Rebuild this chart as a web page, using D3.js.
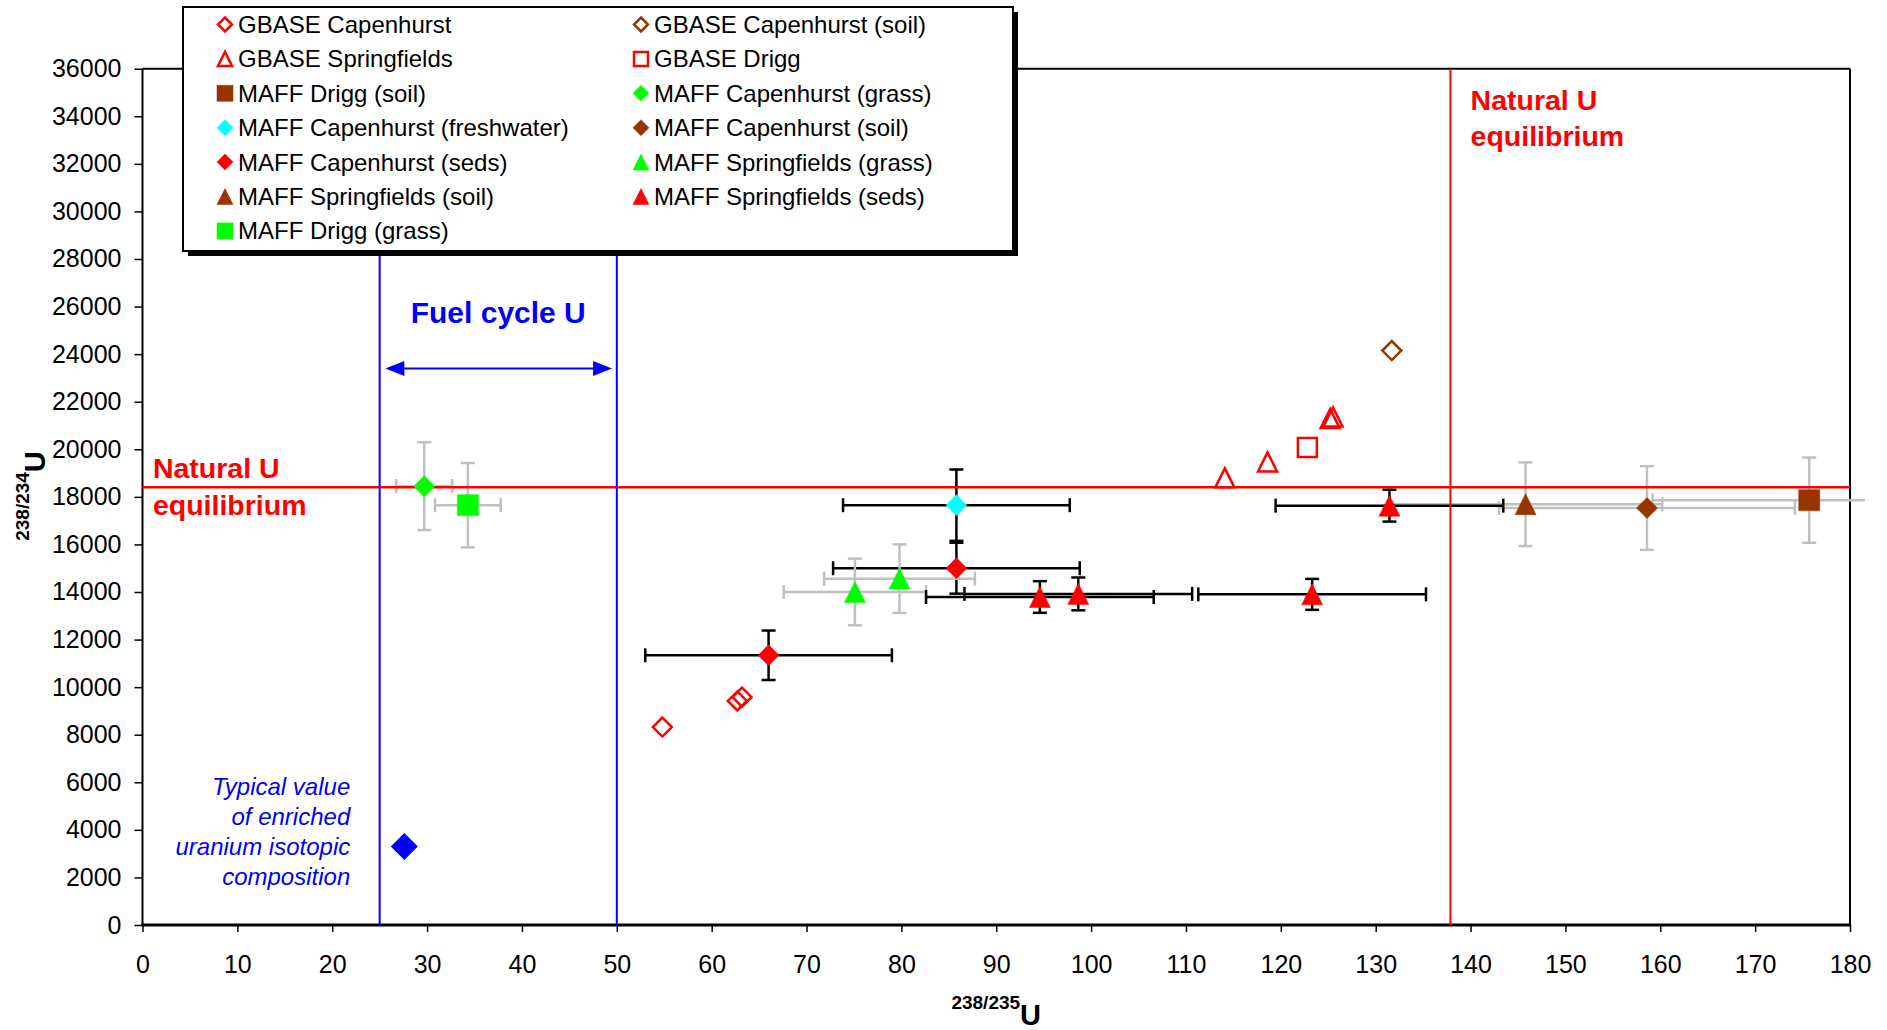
<!DOCTYPE html>
<html>
<head>
<meta charset="utf-8">
<script src="https://cdn.jsdelivr.net/npm/d3@7"></script>
<style>
  html, body { margin: 0; padding: 0; background: #fff; }
  svg { display: block; font-family: "Liberation Sans", Arial, sans-serif; }
</style>
</head>
<body>
<svg id="chart" width="1887" height="1030"></svg>
<script>
// ---- Axis ticks ----
const xTickValues = [0, 10, 20, 30, 40, 50, 60, 70, 80, 90, 100, 110, 120, 130, 140, 150, 160, 170, 180];
const yTickValues = [0, 2000, 4000, 6000, 8000, 10000, 12000, 14000, 16000, 18000, 20000,
                     22000, 24000, 26000, 28000, 30000, 32000, 34000, 36000];

// ---- Reference values ----
const naturalU235 = 137.88;          // natural 238/235 ratio
const naturalU234 = 18400;           // natural 238/234 ratio (secular equilibrium)
const fuelCycleBounds = [25, 50];    // fuel-cycle 238/235 band
const fuelArrowSpan = [25.6, 49.5];
const fuelArrowLevel = 23400;
const enrichedUranium = [27.6, 3300];

// ---- GBASE survey: [238/235, 238/234] ----
const gbaseCapenhurst     = [[54.8, 8320], [62.7, 9420], [63.2, 9580]];
const gbaseCapenhurstSoil = [[131.7, 24150]];
const gbaseSpringfields   = [[114.1, 18800], [118.6, 19470], [125.2, 21290], [125.5, 21360]];
const gbaseDrigg          = [[122.8, 20070]];

// ---- MAFF samples: [238/235, 238/234, ± 238/235, ± 238/234] ----
const maffDriggSoil            = [[175.7, 17860, 16.5, 1790]];
const maffCapenhurstGrass      = [[29.7, 18450, 2.95, 1845]];
const maffCapenhurstFreshwater = [[85.8, 17650, 11.95, 1500]];
const maffCapenhurstSoil       = [[158.6, 17530, 15.6, 1760]];
const maffCapenhurstSeds       = [[66.0, 11340, 13.0, 1040], [85.8, 15000, 13.0, 1070]];
const maffSpringfieldsGrass    = [[75.1, 14000, 7.5, 1400], [79.8, 14560, 7.95, 1440]];
const maffSpringfieldsSoil     = [[145.8, 17690, 14.4, 1760]];
const maffSpringfieldsSeds     = [[94.6, 13790, 12.0, 665], [98.65, 13920, 12.0, 690],
                                  [123.3, 13900, 12.0, 650], [131.45, 17630, 12.0, 670]];
const maffDriggGrass           = [[34.3, 17650, 3.46, 1775]];

// ---- Series, in legend order ----
const RED = "#ff0000", BROWN = "#993300", GREEN = "#00ff00", CYAN = "#00ffff", BLUE = "#0000ff";
const GREY_BAR = "#c0c0c0", BLACK_BAR = "#000000";

const series = [
  { name: "GBASE Capenhurst",            data: gbaseCapenhurst,          shape: "diamond",  color: RED,   open: true },
  { name: "GBASE Capenhurst (soil)",     data: gbaseCapenhurstSoil,      shape: "diamond",  color: BROWN, open: true },
  { name: "GBASE Springfields",          data: gbaseSpringfields,        shape: "triangle", color: RED,   open: true },
  { name: "GBASE Drigg",                 data: gbaseDrigg,               shape: "square",   color: RED,   open: true },
  { name: "MAFF Drigg (soil)",           data: maffDriggSoil,            shape: "square",   color: BROWN, bar: GREY_BAR },
  { name: "MAFF Capenhurst (grass)",     data: maffCapenhurstGrass,      shape: "diamond",  color: GREEN, bar: GREY_BAR },
  { name: "MAFF Capenhurst (freshwater)",data: maffCapenhurstFreshwater, shape: "diamond",  color: CYAN,  bar: BLACK_BAR },
  { name: "MAFF Capenhurst (soil)",      data: maffCapenhurstSoil,       shape: "diamond",  color: BROWN, bar: GREY_BAR },
  { name: "MAFF Capenhurst (seds)",      data: maffCapenhurstSeds,       shape: "diamond",  color: RED,   bar: BLACK_BAR },
  { name: "MAFF Springfields (grass)",   data: maffSpringfieldsGrass,    shape: "triangle", color: GREEN, bar: GREY_BAR },
  { name: "MAFF Springfields (soil)",    data: maffSpringfieldsSoil,     shape: "triangle", color: BROWN, bar: GREY_BAR },
  { name: "MAFF Springfields (seds)",    data: maffSpringfieldsSeds,     shape: "triangle", color: RED,   bar: BLACK_BAR },
  { name: "MAFF Drigg (grass)",          data: maffDriggGrass,           shape: "square",   color: GREEN, bar: GREY_BAR }
];

// ---- Layout ----
const FONT = "'Liberation Sans', Arial, sans-serif";
const plot = { left: 142.5, right: 1850, top: 68.7, bottom: 925 };

const x = d3.scaleLinear().domain([0, 180]).range([plot.left, plot.right]);
const y = d3.scaleLinear().domain([0, 36000]).range([plot.bottom, plot.top]);

const svg = d3.select("#chart");

function shapePath(shape, r) {
  if (shape === "diamond")  return `M0,${-r}L${r},0L0,${r}L${-r},0Z`;
  if (shape === "triangle") return `M0,${-r}L${r},${r}L${-r},${r}Z`;
  return `M${-r},${-r}H${r}V${r}H${-r}Z`;
}

// clip region for error bars (they may run a little past the right frame)
svg.append("defs").append("clipPath").attr("id", "barClip")
  .append("rect")
  .attr("x", plot.left).attr("y", 0)
  .attr("width", plot.right - plot.left + 15).attr("height", plot.bottom);

// ---- Axes ----
const xAxisG = svg.append("g").attr("transform", `translate(0,${plot.bottom})`);
xAxisG.call(d3.axisBottom(x).tickValues(d3.range(0, 180.001, 2.5)).tickSize(5).tickSizeOuter(0).tickFormat(""));
xAxisG.call(d3.axisBottom(x).tickValues(xTickValues).tickSize(7).tickSizeOuter(0).tickPadding(23));
xAxisG.selectAll(".domain").remove();
xAxisG.selectAll("line").attr("stroke", "#000").attr("stroke-width", 1.5);
xAxisG.selectAll("text").attr("font-size", 25).attr("font-family", FONT).attr("fill", "#000");

const yAxisG = svg.append("g").attr("transform", `translate(${plot.left},0)`);
yAxisG.call(d3.axisLeft(y).tickValues(d3.range(0, 36001, 500)).tickSize(6).tickSizeOuter(0).tickFormat(""));
yAxisG.call(d3.axisLeft(y).tickValues(yTickValues).tickSize(8).tickSizeOuter(0).tickPadding(13).tickFormat(d3.format("d")));
yAxisG.selectAll(".domain").remove();
yAxisG.selectAll("line").attr("stroke", "#000").attr("stroke-width", 1.5);
yAxisG.selectAll("text").attr("font-size", 25).attr("font-family", FONT).attr("fill", "#000");

// plot frame
svg.append("line").attr("x1", plot.left).attr("x2", plot.right).attr("y1", plot.top).attr("y2", plot.top)
  .attr("stroke", "#000").attr("stroke-width", 2);
svg.append("line").attr("x1", plot.right).attr("x2", plot.right).attr("y1", plot.top).attr("y2", plot.bottom)
  .attr("stroke", "#000").attr("stroke-width", 2);
svg.append("line").attr("x1", plot.left).attr("x2", plot.left).attr("y1", plot.top).attr("y2", plot.bottom + 1)
  .attr("stroke", "#000").attr("stroke-width", 2);
svg.append("line").attr("x1", plot.left - 1).attr("x2", plot.right).attr("y1", plot.bottom).attr("y2", plot.bottom)
  .attr("stroke", "#000").attr("stroke-width", 3);

// axis titles
const xTitle = svg.append("text").attr("x", (plot.left + plot.right) / 2).attr("y", 1025)
  .attr("text-anchor", "middle").attr("font-family", FONT).attr("font-weight", "bold").attr("fill", "#000");
xTitle.append("tspan").attr("font-size", 19).attr("dy", -15.6).text("238/235");
xTitle.append("tspan").attr("font-size", 29).attr("dy", 15.6).text("U");

const yTitle = svg.append("text").attr("transform", "translate(45,496) rotate(-90)")
  .attr("text-anchor", "middle").attr("font-family", FONT).attr("font-weight", "bold").attr("fill", "#000");
yTitle.append("tspan").attr("font-size", 19).attr("dy", -15.6).text("238/234");
yTitle.append("tspan").attr("font-size", 29).attr("dy", 15.6).text("U");

// ---- Error bars ----
const barLayer = svg.append("g").attr("clip-path", "url(#barClip)");
const CAP = 7;
series.filter(s => s.bar).forEach(s => {
  s.data.forEach(([vx, vy, ex, ey]) => {
    const g = barLayer.append("g").attr("stroke", s.bar).attr("stroke-width", 2.5).attr("fill", "none");
    const cx = x(vx), cy = y(vy);
    const x0 = x(vx - ex), x1 = x(vx + ex), y0 = y(vy - ey), y1 = y(vy + ey);
    g.append("line").attr("x1", x0).attr("x2", x1).attr("y1", cy).attr("y2", cy);
    g.append("line").attr("x1", x0).attr("x2", x0).attr("y1", cy - CAP).attr("y2", cy + CAP);
    g.append("line").attr("x1", x1).attr("x2", x1).attr("y1", cy - CAP).attr("y2", cy + CAP);
    g.append("line").attr("x1", cx).attr("x2", cx).attr("y1", y0).attr("y2", y1);
    g.append("line").attr("x1", cx - CAP).attr("x2", cx + CAP).attr("y1", y0).attr("y2", y0);
    g.append("line").attr("x1", cx - CAP).attr("x2", cx + CAP).attr("y1", y1).attr("y2", y1);
  });
});

// ---- Reference lines ----
svg.append("line").attr("x1", x(0)).attr("x2", x(180)).attr("y1", y(naturalU234)).attr("y2", y(naturalU234))
  .attr("stroke", RED).attr("stroke-width", 2.5);
svg.append("line").attr("x1", x(naturalU235)).attr("x2", x(naturalU235)).attr("y1", y(36000)).attr("y2", y(0))
  .attr("stroke", RED).attr("stroke-width", 2);
fuelCycleBounds.forEach(v => {
  svg.append("line").attr("x1", x(v)).attr("x2", x(v)).attr("y1", y(36000)).attr("y2", y(0))
    .attr("stroke", BLUE).attr("stroke-width", 2);
});

// fuel-cycle double arrow
const ay = y(fuelArrowLevel), ax0 = x(fuelArrowSpan[0]), ax1 = x(fuelArrowSpan[1]);
svg.append("line").attr("x1", ax0 + 10).attr("x2", ax1 - 10).attr("y1", ay).attr("y2", ay)
  .attr("stroke", BLUE).attr("stroke-width", 2);
svg.append("path").attr("d", `M${ax0},${ay}L${ax0 + 19},${ay - 7.5}L${ax0 + 19},${ay + 7.5}Z`).attr("fill", BLUE);
svg.append("path").attr("d", `M${ax1},${ay}L${ax1 - 19},${ay - 7.5}L${ax1 - 19},${ay + 7.5}Z`).attr("fill", BLUE);

// ---- Markers ----
series.forEach(s => {
  const g = svg.append("g");
  s.data.forEach(d => {
    g.append("path")
      .attr("transform", `translate(${x(d[0])},${y(d[1])})`)
      .attr("d", shapePath(s.shape, s.open ? 9.5 : 10.5))
      .attr("fill", s.open ? "none" : s.color)
      .attr("stroke", s.color)
      .attr("stroke-width", s.open ? 2.5 : 0.5)
      .attr("stroke-linejoin", "miter");
  });
});

// enriched uranium reference point
svg.append("path")
  .attr("transform", `translate(${x(enrichedUranium[0])},${y(enrichedUranium[1])})`)
  .attr("d", shapePath("diamond", 13.5)).attr("fill", BLUE);

// ---- Annotations ----
svg.append("text").attr("x", x(37.5)).attr("y", y(25766)).attr("dy", "0.35em")
  .attr("text-anchor", "middle").attr("font-family", FONT).attr("font-weight", "bold")
  .attr("font-size", 30).attr("fill", BLUE).text("Fuel cycle U");

function redLabel(vx, vyTop, vyBottom) {
  const t = svg.append("text").attr("font-family", FONT).attr("font-weight", "bold")
    .attr("font-size", 28.5).attr("fill", RED);
  t.append("tspan").attr("x", x(vx)).attr("y", y(vyTop)).attr("dy", "0.35em").text("Natural U");
  t.append("tspan").attr("x", x(vx)).attr("y", y(vyBottom)).attr("dy", "0.35em").text("equilibrium");
}
redLabel(1.1, 19203, 17647);
redLabel(140.0, 34681, 33168);

const noteLines = ["Typical value", "of enriched", "uranium isotopic", "composition"];
const noteLevels = [5826, 4564, 3302, 2040];
const note = svg.append("text").attr("font-family", FONT).attr("font-style", "italic")
  .attr("font-size", 24).attr("fill", BLUE).attr("text-anchor", "end");
noteLines.forEach((line, i) => {
  note.append("tspan").attr("x", x(21.9)).attr("y", y(noteLevels[i])).attr("dy", "0.35em").text(line);
});

// ---- Legend ----
const legend = { x: 183, y: 7, w: 830, h: 244 };
svg.append("rect").attr("x", legend.x + 5).attr("y", legend.y + 5).attr("width", legend.w).attr("height", legend.h)
  .attr("fill", "#000");
svg.append("rect").attr("x", legend.x).attr("y", legend.y).attr("width", legend.w).attr("height", legend.h)
  .attr("fill", "#fff").attr("stroke", "#000").attr("stroke-width", 2);

const colX = [225, 641];
series.forEach((s, i) => {
  const cx = colX[i % 2];
  const cy = 24.5 + Math.floor(i / 2) * 34.4;
  svg.append("path")
    .attr("transform", `translate(${cx},${cy})`)
    .attr("d", shapePath(s.shape, s.open ? 7 : 8))
    .attr("fill", s.open ? "none" : s.color)
    .attr("stroke", s.color)
    .attr("stroke-width", s.open ? 2.5 : 0.5);
  svg.append("text").attr("x", cx + 13).attr("y", cy + 8.5)
    .attr("font-family", FONT).attr("font-size", 24).attr("fill", "#000").text(s.name);
});
</script>
</body>
</html>
